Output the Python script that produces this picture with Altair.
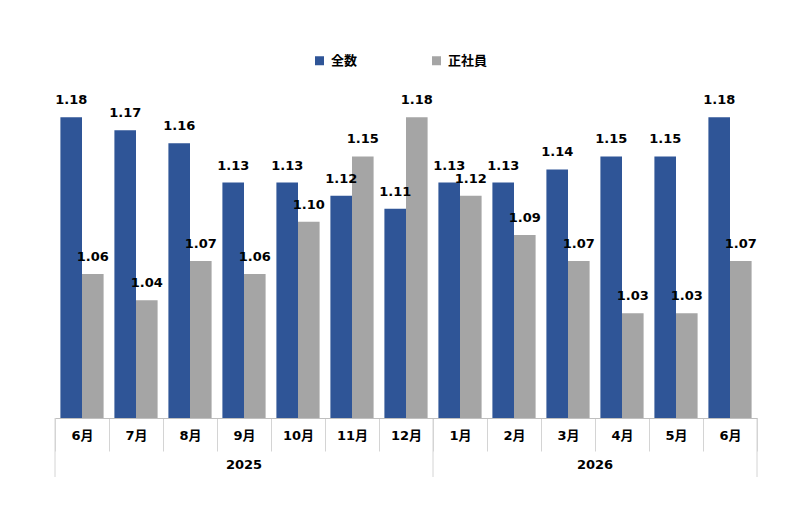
import altair as alt
import pandas as pd

months = ["6月", "7月", "8月", "9月", "10月", "11月", "12月",
          "1月", "2月", "3月", "4月", "5月", "6月"]
years = ["2025", "2025", "2025", "2025", "2025", "2025", "2025",
         "2026", "2026", "2026", "2026", "2026", "2026"]
total = [1.18, 1.17, 1.16, 1.13, 1.13, 1.12, 1.11,
         1.13, 1.13, 1.14, 1.15, 1.15, 1.18]
regular = [1.06, 1.04, 1.07, 1.06, 1.10, 1.15, 1.18,
           1.12, 1.09, 1.07, 1.03, 1.03, 1.07]
series = ["全数", "正社員"]
colors = ["#2F5597", "#A5A5A5"]

keys = [f"{y}|{m}" for y, m in zip(years, months)]

rows = []
for k, a, b in zip(keys, total, regular):
    rows.append({"key": k, "series": series[0], "value": a})
    rows.append({"key": k, "series": series[1], "value": b})
df = pd.DataFrame(rows)

W, H = 702, 327
FONT = "DejaVu Sans, Noto Sans CJK JP"

xscale = alt.Scale(domain=keys, paddingInner=0, paddingOuter=0)
yscale = alt.Scale(domain=[0.95, 1.2], zero=False, nice=False, clamp=True)

x_enc = alt.X("key:N", sort=keys, scale=xscale, title=None,
              axis=alt.Axis(labelExpr="split(datum.value, '|')[1]",
                            labelAngle=0, labelFont=FONT, labelFontSize=13,
                            labelFontWeight="bold", labelColor="#000000",
                            tickBand="extent", tickSize=33, tickColor="#d4d4d4",
                            domainColor="#bfbfbf", labelPadding=-22,
                            labelBaseline="top", zindex=1))

base = alt.Chart(df)

bars = base.mark_bar().encode(
    x=x_enc,
    xOffset=alt.XOffset("series:N", sort=series,
                        scale=alt.Scale(paddingOuter=0.25, paddingInner=0)),
    y=alt.Y("value:Q", scale=yscale, axis=None),
    y2=alt.Y2(datum=0.95),
    color=alt.Color("series:N", sort=series,
                    scale=alt.Scale(domain=series, range=colors),
                    legend=alt.Legend(title=None, orient="none", legendX=258, legendY=-37,
                                      direction="horizontal", symbolType="square",
                                      symbolSize=81, symbolStrokeWidth=0,
                                      labelFont=FONT, labelFontSize=13,
                                      labelFontWeight="bold", labelColor="#000000",
                                      columnPadding=72, labelOffset=5)),
)

labels = base.mark_text(baseline="alphabetic", dy=-13, font=FONT, fontSize=13,
                        fontWeight="bold", color="#000000").encode(
    x=alt.X("key:N", sort=keys, scale=xscale),
    xOffset=alt.XOffset("series:N", sort=series,
                        scale=alt.Scale(paddingOuter=0.25, paddingInner=0)),
    y=alt.Y("value:Q", scale=yscale),
    text=alt.Text("value:Q", format=".2f"),
)

year_start_keys = [keys[0], keys[7]]
year_end_keys = [keys[-1]]

sep_start = alt.Chart(pd.DataFrame({"key": year_start_keys})).mark_rule(
    color="#d4d4d4").encode(
    x=alt.X("key:N", sort=keys, scale=xscale, bandPosition=0),
    y=alt.value(H), y2=alt.value(H + 59))

sep_end = alt.Chart(pd.DataFrame({"key": year_end_keys})).mark_rule(
    color="#d4d4d4").encode(
    x=alt.X("key:N", sort=keys, scale=xscale, bandPosition=1),
    y=alt.value(H), y2=alt.value(H + 59))

year_label_2025 = alt.Chart(pd.DataFrame({"key": [keys[3]], "year": ["2025"]})).mark_text(
    font=FONT, fontSize=13, fontWeight="bold", color="#000000", baseline="middle").encode(
    x=alt.X("key:N", sort=keys, scale=xscale, bandPosition=0.5),
    y=alt.value(H + 47), text="year:N")

year_label_2026 = alt.Chart(pd.DataFrame({"key": [keys[10]], "year": ["2026"]})).mark_text(
    font=FONT, fontSize=13, fontWeight="bold", color="#000000", baseline="middle").encode(
    x=alt.X("key:N", sort=keys, scale=xscale, bandPosition=0),
    y=alt.value(H + 47), text="year:N")

chart = alt.layer(bars, labels, sep_start, sep_end, year_label_2025, year_label_2026).properties(
    width=W, height=H,
    autosize=alt.AutoSizeParams(type="none"),
    padding={"left": 47, "top": 83, "right": 20, "bottom": 80},
    background="#ffffff",
).configure_view(stroke=None)

chart.save("out.html", embed_options={"renderer": "svg", "actions": False})
